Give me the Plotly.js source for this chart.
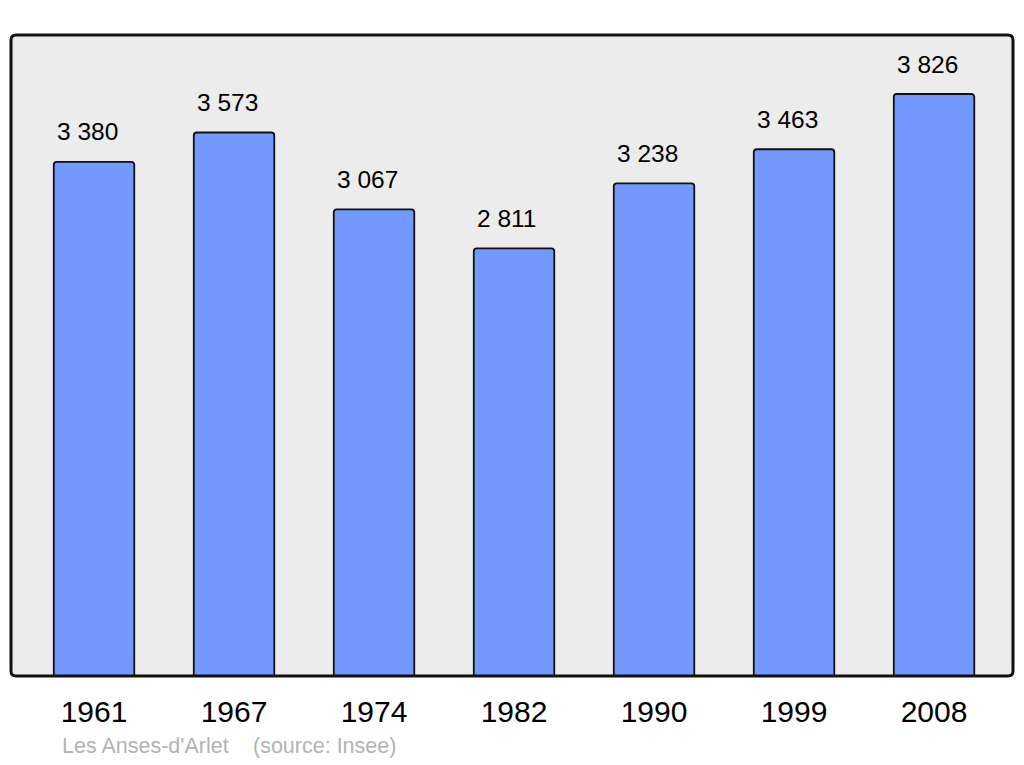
<!DOCTYPE html>
<html>
<head>
<meta charset="utf-8">
<script src="https://cdn.plot.ly/plotly-3.0.1.min.js"></script>
<style>html,body{margin:0;padding:0;background:#fff;}#chart{width:1024px;height:765px;}</style>
</head>
<body>
<div id="chart"></div>
<script>
const years = ["1961", "1967", "1974", "1982", "1990", "1999", "2008"];
const population = [3380, 3573, 3067, 2811, 3238, 3463, 3826];
const valueLabels = ["3 380", "3 573", "3 067", "2 811", "3 238", "3 463", "3 826"];
const commune = "Les Anses-d'Arlet";
const source = "(source: Insee)";

const W = 1002, H = 641;
const rx = 5 / W, ry = 5 / H;
const framePath = `M ${rx} 0 L ${1 - rx} 0 Q 1 0 1 ${ry} L 1 ${1 - ry} Q 1 1 ${1 - rx} 1 L ${rx} 1 Q 0 1 0 ${1 - ry} L 0 ${ry} Q 0 0 ${rx} 0 Z`;

const trace = {
  type: 'bar',
  x: years,
  y: population,
  width: 0.575,
  marker: { color: '#7399ff', line: { color: '#111111', width: 1.8 }, cornerradius: 3 },
  hoverinfo: 'none'
};

const annotations = years.map((yr, i) => ({
  x: i, y: population[i], xref: 'x', yref: 'y',
  text: valueLabels[i], showarrow: false, yshift: 30, xshift: -7,
  font: { family: 'Liberation Sans, Arial, sans-serif', size: 24.5, color: '#000' }
}));
annotations.push({
  xref: 'paper', yref: 'paper', x: (60 - 11) / W, y: (676 - 746) / H,
  xanchor: 'left', yanchor: 'middle', showarrow: false, text: commune,
  font: { family: 'Liberation Sans, Arial, sans-serif', size: 21.5, color: '#b3b3b3' }
});
annotations.push({
  xref: 'paper', yref: 'paper', x: (251 - 11) / W, y: (676 - 746) / H,
  xanchor: 'left', yanchor: 'middle', showarrow: false, text: source,
  font: { family: 'Liberation Sans, Arial, sans-serif', size: 21.5, color: '#b3b3b3' }
});

const layout = {
  width: 1024, height: 765,
  margin: { l: 11, r: 11, t: 35, b: 89, pad: 0 },
  paper_bgcolor: '#ffffff',
  plot_bgcolor: '#ececec',
  showlegend: false,
  font: { family: 'Liberation Sans, Arial, sans-serif', color: '#000' },
  xaxis: {
    type: 'category', range: [-0.593, 6.564], showgrid: false, zeroline: false,
    showline: false, ticks: '', ticklabelstandoff: 15,
    tickfont: { family: 'Liberation Sans, Arial, sans-serif', size: 30, color: '#000' },
    fixedrange: true
  },
  yaxis: {
    range: [0, 4214], showgrid: false, zeroline: false, showline: false,
    showticklabels: false, ticks: '', fixedrange: true
  },
  shapes: [{
    type: 'path', xref: 'paper', yref: 'paper', path: framePath,
    line: { color: '#111111', width: 3 }, fillcolor: 'rgba(0,0,0,0)', layer: 'above'
  }],
  annotations: annotations
};

Plotly.newPlot('chart', [trace], layout, { displayModeBar: false, staticPlot: true });
</script>
</body>
</html>
